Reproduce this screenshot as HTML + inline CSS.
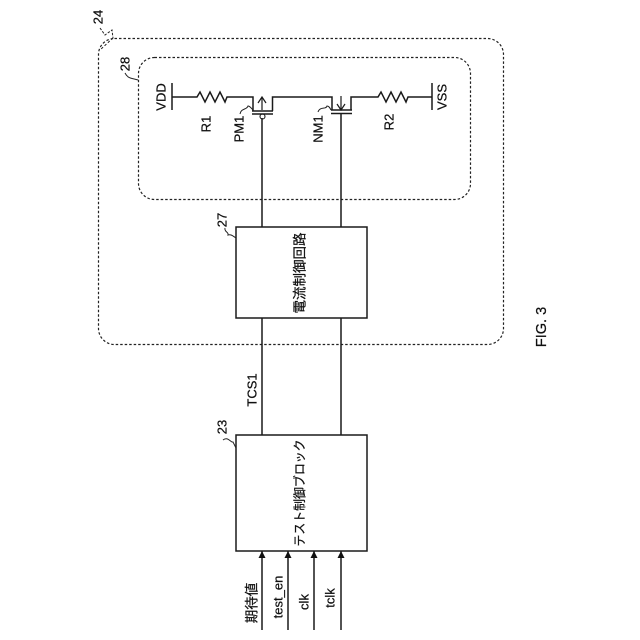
<!DOCTYPE html>
<html>
<head>
<meta charset="utf-8">
<style>
html,body{margin:0;padding:0;background:#fff;}
svg{display:block;}
text{font-family:"Liberation Sans","Noto Sans CJK JP",sans-serif;fill:#111;stroke:#111;stroke-width:.25;text-anchor:middle;dominant-baseline:central;}
</style>
</head>
<body>
<svg width="640" height="640" viewBox="0 0 640 640" xmlns="http://www.w3.org/2000/svg">
<rect width="640" height="640" fill="#fff"/>
<g fill="none" stroke="#222" stroke-width="1.200">
  <rect x="98.500" y="38.500" width="405" height="306" rx="16" stroke-dasharray="2.500 2"/>
  <rect x="138.500" y="57.500" width="332" height="142" rx="16" stroke-dasharray="2.500 2"/>
</g>
<g fill="none" stroke="#1a1a1a" stroke-width="1.500">
  <rect x="236" y="227" width="131" height="91"/>
  <rect x="236" y="435" width="131" height="116"/>
  <path d="M262 118V227M341 113V227M262 318V435M341 318V435"/>
  <path d="M262 551V630M288 551V630M314 551V630M341 551V630"/>
  <path d="M172 83V110M432 83V110"/>
  <path d="M172 97H197L200 92L205 102L210 92L215 102L220 92L225 102L227 97H253V111"/>
  <path d="M272.500 111V97H332V110"/>
  <path d="M351 110V97H378L381 92L386 102L391 92L396 102L401 92L406 102L408 97H432"/>
  <path d="M252 111H273M252 114H273" stroke-width="1.400"/>
  <path d="M331 110H352M331 113.500H352" stroke-width="1.400"/>
  <path d="M262 110V98M341 96V110" stroke-width="1.200"/>
  <path d="M258 103L262 97L266 103M337 104L341 110L345 104" stroke-width="1.200"/>
  <circle cx="262.500" cy="116.500" r="2.500" stroke-width="1.100"/>
</g>
<g fill="none" stroke="#222" stroke-width="1">
  <path d="M100 28L105 35L112 30L113 38" stroke-dasharray="2.500 1.500"/>
  <path d="M113 38L100 50" stroke-dasharray="2.500 2"/>
  <path d="M125 73C128 79 132 78 138 80"/>
  <path d="M225 228C224 232 229 232 228 235C231 234 233 236 236 238"/>
  <path d="M223 440C228 436 231 443 233 442C234 444 235 446 236 448"/>
  <path d="M240 114C241 108 247 110 248 106C250 106 251 108 253 110"/>
  <path d="M318 112C320 106 326 110 327 106C329 106 330 108 331 110"/>
</g>
<g fill="#111">
  <path d="M262 551L258.500 558H265.500Z"/>
  <path d="M288 551L284.500 558H291.500Z"/>
  <path d="M314 551L310.500 558H317.500Z"/>
  <path d="M341 551L337.500 558H344.500Z"/>
</g>
<g font-size="13">
  <text transform="translate(161 97) rotate(-90)">VDD</text>
  <text transform="translate(206 124) rotate(-90)">R1</text>
  <text transform="translate(239 129) rotate(-90)">PM1</text>
  <text transform="translate(318 129) rotate(-90)">NM1</text>
  <text transform="translate(389 122) rotate(-90)">R2</text>
  <text transform="translate(442 97) rotate(-90)">VSS</text>
  <text transform="translate(125 64) rotate(-90)">28</text>
  <text transform="translate(98 17) rotate(-90)">24</text>
  <text transform="translate(222 220) rotate(-90)">27</text>
  <text transform="translate(222 427) rotate(-90)">23</text>
  <text transform="translate(252 390) rotate(-90)">TCS1</text>
  <text transform="translate(278 597) rotate(-90)">test_en</text>
  <text transform="translate(304 602) rotate(-90)">clk</text>
  <text transform="translate(330 598) rotate(-90)">tclk</text>
  <text transform="translate(252 603) rotate(-90)" font-size="13.500">期待値</text>
  <text transform="translate(300 273) rotate(-90)" font-size="13.500">電流制御回路</text>
  <text transform="translate(300 493) rotate(-90)" font-size="12.500" textLength="107" lengthAdjust="spacingAndGlyphs">テスト制御ブロック</text>
  <text transform="translate(542 327) rotate(-90)" font-size="14.500">FIG. 3</text>
</g>
</svg>
</body>
</html>
